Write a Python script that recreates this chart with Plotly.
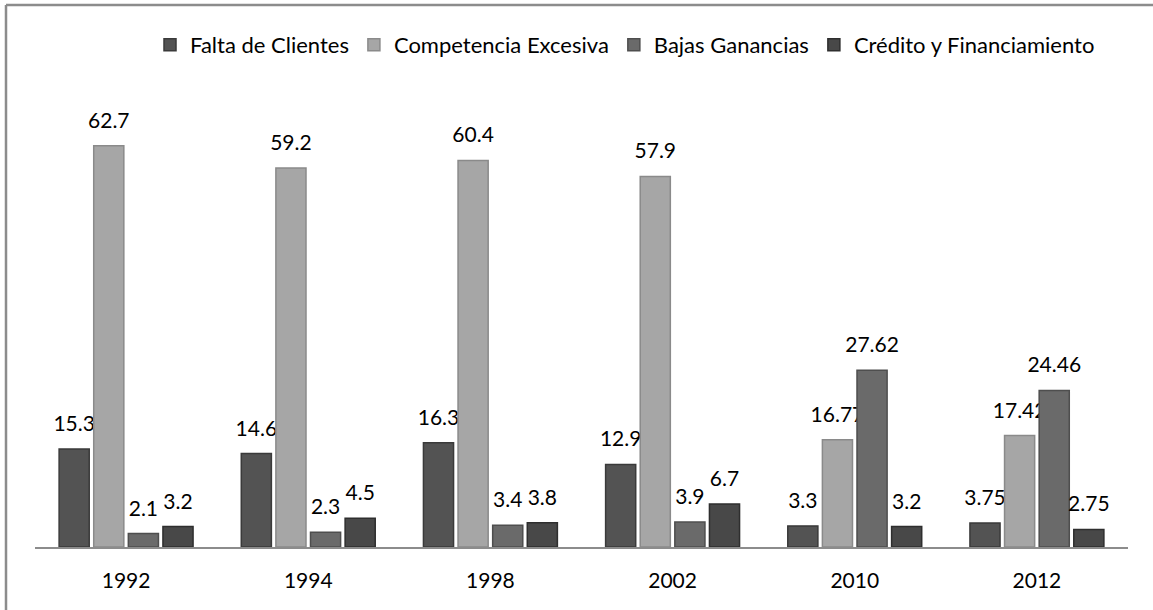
import plotly.graph_objects as go

years = ["1992", "1994", "1998", "2002", "2010", "2012"]
falta = [15.3, 14.6, 16.3, 12.9, 3.3, 3.75]
competencia = [62.7, 59.2, 60.4, 57.9, 16.77, 17.42]
bajas = [2.1, 2.3, 3.4, 3.9, 27.62, 24.46]
credito = [3.2, 4.5, 3.8, 6.7, 3.2, 2.75]

series = [
    ("Falta de Clientes", falta, "#535353", "#3a3a3a"),
    ("Competencia Excesiva", competencia, "#a6a6a6", "#8a8a8a"),
    ("Bajas Ganancias", bajas, "#6a6a6a", "#4e4e4e"),
    ("Crédito y Financiamiento", credito, "#484848", "#2e2e2e"),
]

FONT = "Lato"
FS = 21
fig = go.Figure()
for name, vals, col, edge in series:
    fig.add_trace(go.Bar(
        name=name, x=years, y=vals,
        marker=dict(color=col, line=dict(color=edge, width=1.5)),
        text=[str(v) for v in vals],
        texttemplate="<span style='font-size:21px'>%{text}</span><br>&nbsp;",
        textposition="outside",
        textfont=dict(size=10, color="#000000", family=FONT),
        constraintext="none", cliponaxis=False,
    ))

W, H = 1153, 610
ml, mr, mt, mb = 35, 25, 99, 63
pw, ph = W - ml - mr, H - mt - mb

def px(x):
    return (x - ml) / pw

def py(y):
    return (H - mb - y) / ph

fig.update_layout(
    width=W, height=H,
    margin=dict(l=ml, r=mr, t=mt, b=mb, autoexpand=False),
    paper_bgcolor="white", plot_bgcolor="white",
    barmode="group", bargap=0.24, bargroupgap=0.13,
    font=dict(family=FONT, size=FS, color="#000000"),
    legend=dict(orientation="h", x=px(625), xanchor="center", y=py(45), yanchor="middle",
                font=dict(size=22, family=FONT), itemwidth=30, traceorder="normal"),
    xaxis=dict(showline=True, linecolor="#8c8c8c", linewidth=2, ticks="",
               tickfont=dict(size=FS, family=FONT), showgrid=False,
               ticklabelstandoff=14, automargin=False),
    yaxis=dict(range=[0, 70], visible=False, showgrid=False),
    shapes=[
        dict(type="line", xref="paper", yref="paper", x0=px(6), x1=px(W), y0=py(5), y1=py(5),
             line=dict(color="#8c8c8c", width=2.5)),
        dict(type="line", xref="paper", yref="paper", x0=px(6), x1=px(6), y0=py(5), y1=py(H),
             line=dict(color="#8c8c8c", width=2.5)),
    ],
)

fig.write_html("out.html", config={"displayModeBar": False},
               post_script="document.body.style.margin='0';")
